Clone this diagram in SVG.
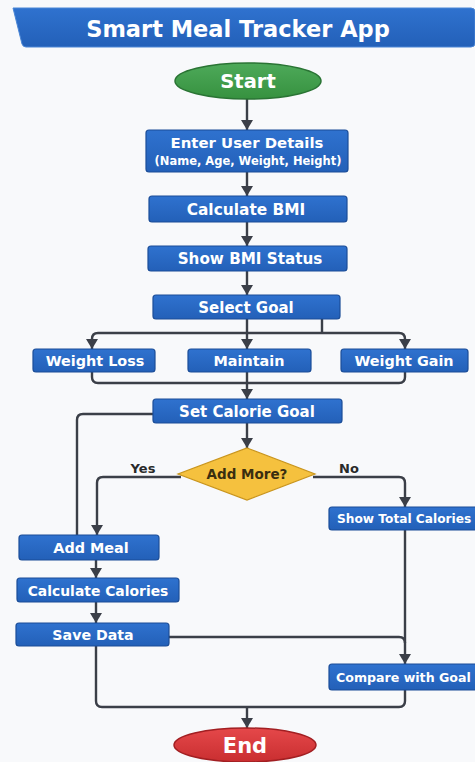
<svg xmlns="http://www.w3.org/2000/svg" width="475" height="762" viewBox="0 0 475 762">
<defs>
<marker id="ah" markerUnits="userSpaceOnUse" markerWidth="12" markerHeight="10" viewBox="0 0 12 10" refX="6" refY="10" orient="0">
<path d="M0 0 L12 0 L6 10 Z" fill="#3b3f48"/>
</marker>
<linearGradient id="bg" x1="0" y1="0" x2="0" y2="1">
<stop offset="0" stop-color="#2f72cf"/><stop offset="1" stop-color="#2360b8"/>
</linearGradient>
<linearGradient id="gg" x1="0" y1="0" x2="0" y2="1">
<stop offset="0" stop-color="#4eaa5a"/><stop offset="1" stop-color="#36913f"/>
</linearGradient>
<linearGradient id="rg" x1="0" y1="0" x2="0" y2="1">
<stop offset="0" stop-color="#e5484a"/><stop offset="1" stop-color="#c92e30"/>
</linearGradient>
</defs>
<style>
.box{fill:url(#bg);stroke:#1b4d98;stroke-width:1.2}
.t{font-family:"DejaVu Sans","Liberation Sans",sans-serif;font-weight:bold;fill:#fff;text-anchor:middle}
.s{text-anchor:start}
.c{fill:none;stroke:#3b3f48;stroke-width:2.4;stroke-linejoin:round}
.a{marker-end:url(#ah)}
.lbl{font-family:"DejaVu Sans","Liberation Sans",sans-serif;font-weight:bold;fill:#2a2a2a;font-size:13px;text-anchor:middle}
</style>
<rect width="475" height="762" fill="#f8f9fb"/>

<g id="title">
<path d="M13 8 H471 Q475 8 475 12 V43 Q475 47 471 47 H26 Q23 47 22 44 Z" fill="url(#bg)" stroke="#4a86d6" stroke-width="1"/>
<text class="t" x="238" y="37" font-size="22.5">Smart Meal Tracker App</text>
</g>

<g id="connectors">
<path class="c a" d="M247 99 V130"/>
<path class="c a" d="M247 172 V196"/>
<path class="c a" d="M247 222 V246"/>
<path class="c a" d="M247 271 V295"/>
<path class="c a" d="M247 319 V349"/>
<path class="c" d="M322 319 V333"/>
<path class="c a" d="M322 333 H98 Q92 333 92 339 V349"/>
<path class="c a" d="M322 333 H399 Q405 333 405 339 V349"/>
<path class="c" d="M92 372 V377 Q92 383 98 383 H399 Q405 383 405 377 V372"/>
<path class="c a" d="M247 372 V399"/>
<path class="c" d="M153 414 H83 Q77 414 77 420 V535"/>
<path class="c a" d="M247 423 V448"/>
<path class="c a" d="M181 477 H103 Q97 477 97 483 V535"/>
<path class="c a" d="M313 477 H399 Q405 477 405 483 V507"/>
<path class="c a" d="M96 560 V578"/>
<path class="c a" d="M96 602 V623"/>
<path class="c a" d="M405 530 V664"/>
<path class="c" d="M169 637 H399 Q405 637 405 643"/>
<path class="c" d="M96 646 V701 Q96 707 102 707 H399 Q405 707 405 701 V690"/>
<path class="c a" d="M247 707 V728"/>
</g>

<g id="start">
<ellipse cx="248" cy="81" rx="73" ry="18" fill="url(#gg)" stroke="#2a7434" stroke-width="1.5"/>
<text class="t" x="248" y="88" font-size="19.5">Start</text>
</g>

<g id="enter">
<rect class="box" x="146" y="130" width="202" height="42" rx="3"/>
<text class="t" x="247" y="148" font-size="14.9">Enter User Details</text>
<text class="t" x="248" y="165" font-size="11.5">(Name, Age, Weight, Height)</text>
</g>

<g id="calcbmi">
<rect class="box" x="149" y="196" width="198" height="26" rx="3"/>
<text class="t" x="246" y="214.5" font-size="15.4">Calculate BMI</text>
</g>

<g id="showbmi">
<rect class="box" x="148" y="246" width="199" height="25" rx="3"/>
<text class="t" x="250" y="264" font-size="15.2">Show BMI Status</text>
</g>

<g id="select">
<rect class="box" x="153" y="295" width="187" height="24" rx="3"/>
<text class="t" x="246" y="312.5" font-size="15">Select Goal</text>
</g>

<g id="loss">
<rect class="box" x="33" y="349" width="122" height="23" rx="3"/>
<text class="t" x="95" y="365.5" font-size="14.4">Weight Loss</text>
</g>

<g id="maintain">
<rect class="box" x="188" y="349" width="123" height="23" rx="3"/>
<text class="t" x="249" y="365.5" font-size="14.4">Maintain</text>
</g>

<g id="gain">
<rect class="box" x="341" y="349" width="127" height="23" rx="3"/>
<text class="t" x="404" y="365.5" font-size="14.4">Weight Gain</text>
</g>

<g id="setcal">
<rect class="box" x="153" y="399" width="189" height="24" rx="3"/>
<text class="t" x="247" y="416.5" font-size="15">Set Calorie Goal</text>
</g>

<g id="addmore">
<path d="M247 448 L315 474 L247 500 L178 474 Z" fill="#f5c13e" stroke="#c9951d" stroke-width="1.2"/>
<text x="247" y="478.5" font-family="DejaVu Sans, Liberation Sans, sans-serif" font-weight="bold" font-size="13.5" fill="#3a2e10" text-anchor="middle">Add More?</text>
</g>
<text class="lbl" x="143" y="473">Yes</text>
<text class="lbl" x="349" y="473">No</text>

<g id="showtotal">
<rect class="box" x="329" y="507" width="160" height="23" rx="3"/>
<text class="t s" x="337" y="523" font-size="12.2">Show Total Calories</text>
</g>

<g id="addmeal">
<rect class="box" x="19" y="535" width="140" height="25" rx="3"/>
<text class="t" x="91" y="552.5" font-size="14.4">Add Meal</text>
</g>

<g id="calccal">
<rect class="box" x="17" y="578" width="162" height="24" rx="3"/>
<text class="t" x="98" y="595.5" font-size="13.9">Calculate Calories</text>
</g>

<g id="save">
<rect class="box" x="16" y="623" width="153" height="23" rx="3"/>
<text class="t" x="93" y="639.5" font-size="14.2">Save Data</text>
</g>

<g id="compare">
<rect class="box" x="329" y="664" width="160" height="26" rx="3"/>
<text class="t s" x="336" y="681.5" font-size="12.6">Compare with Goal</text>
</g>

<g id="end">
<ellipse cx="245" cy="745" rx="71" ry="17" fill="url(#rg)" stroke="#a21f22" stroke-width="1.5"/>
<text class="t" x="245" y="752.5" font-size="21">End</text>
</g>
</svg>
